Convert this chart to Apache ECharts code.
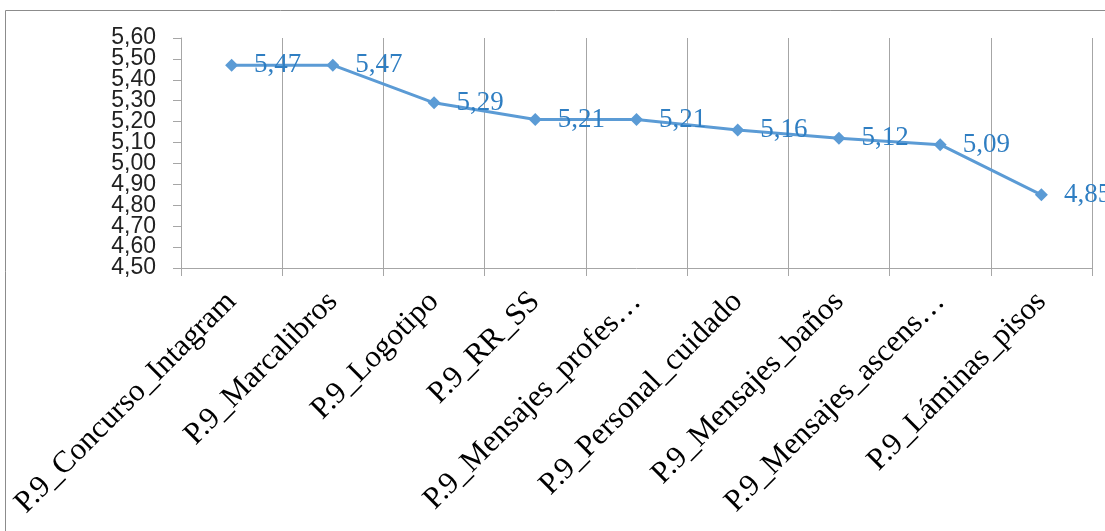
<!DOCTYPE html>
<html>
<head>
<meta charset="utf-8">
<script src="https://cdn.jsdelivr.net/npm/echarts@6/dist/echarts.min.js"></script>
<style>
  html, body { margin: 0; padding: 0; background: #fff; }
  #chart { width: 1105px; height: 531px; }
</style>
</head>
<body>
<div id="chart"></div>
<script>
// Mean score per P.9 item
const categories = [
  'P.9_Concurso_Intagram',
  'P.9_Marcalibros',
  'P.9_Logotipo',
  'P.9_RR_SS',
  'P.9_Mensajes_profes…',
  'P.9_Personal_cuidado',
  'P.9_Mensajes_baños',
  'P.9_Mensajes_ascens…',
  'P.9_Láminas_pisos'
];
const meanValues = [5.47, 5.47, 5.29, 5.21, 5.21, 5.16, 5.12, 5.09, 4.85];
const yTickValues = [4.5, 4.6, 4.7, 4.8, 4.9, 5.0, 5.1, 5.2, 5.3, 5.4, 5.5, 5.6];
const yMin = 4.5;
const yMax = 5.6;
const yStep = 0.1;

const comma = v => Number(v).toFixed(2).replace('.', ',');

const frame = {
  type: 'rect',
  shape: { x: 5.5, y: 10.5, width: 1200, height: 700 },
  style: { fill: 'none', stroke: '#8c8c8c', lineWidth: 1 },
  silent: true,
  z: -1
};

const gridLeft = 181;

const chart = echarts.init(document.getElementById('chart'), null, { renderer: 'canvas' });
chart.setOption({
  animation: false,
  backgroundColor: '#ffffff',
  graphic: [frame],
  grid: { left: gridLeft, right: 13, top: 38, bottom: 263, containLabel: false },
  xAxis: {
    type: 'category',
    data: categories,
    boundaryGap: true,
    axisLine: { show: true, lineStyle: { color: '#a6a6a6', width: 1 } },
    axisTick: { show: true, length: 8, alignWithLabel: false, lineStyle: { color: '#a6a6a6' } },
    splitLine: { show: true, lineStyle: { color: '#a6a6a6', width: 1 } },
    axisLabel: {
      interval: 0,
      rotate: 45,
      margin: 29,
      color: '#000',
      fontFamily: 'Liberation Serif',
      fontSize: 31
    }
  },
  yAxis: {
    type: 'value',
    min: yMin,
    max: yMax,
    interval: yStep,
    axisLine: { show: true, lineStyle: { color: '#a6a6a6', width: 1 } },
    axisTick: { show: true, length: 8, lineStyle: { color: '#a6a6a6' } },
    splitLine: { show: false },
    // tick labels are placed below so none of the tightly packed ones get dropped
    axisLabel: { show: false }
  },
  series: [{
    type: 'line',
    data: meanValues,
    symbol: 'diamond',
    symbolSize: 13,
    lineStyle: { color: '#5b9bd5', width: 3 },
    itemStyle: { color: '#5b9bd5' },
    label: {
      show: true,
      position: 'right',
      distance: 16,
      color: '#2f7ec2',
      fontFamily: 'Liberation Serif',
      fontSize: 27,
      formatter: p => comma(p.value)
    }
  }]
});

// Y tick labels, positioned through the value axis scale
const yLabels = yTickValues.map(v => ({
  type: 'text',
  x: gridLeft - 25,
  y: chart.convertToPixel({ yAxisIndex: 0 }, v),
  silent: true,
  style: {
    text: comma(v),
    align: 'right',
    verticalAlign: 'middle',
    fill: '#222',
    font: '23px "Liberation Sans"'
  }
}));
chart.setOption({ graphic: [frame].concat(yLabels) });
</script>
</body>
</html>
